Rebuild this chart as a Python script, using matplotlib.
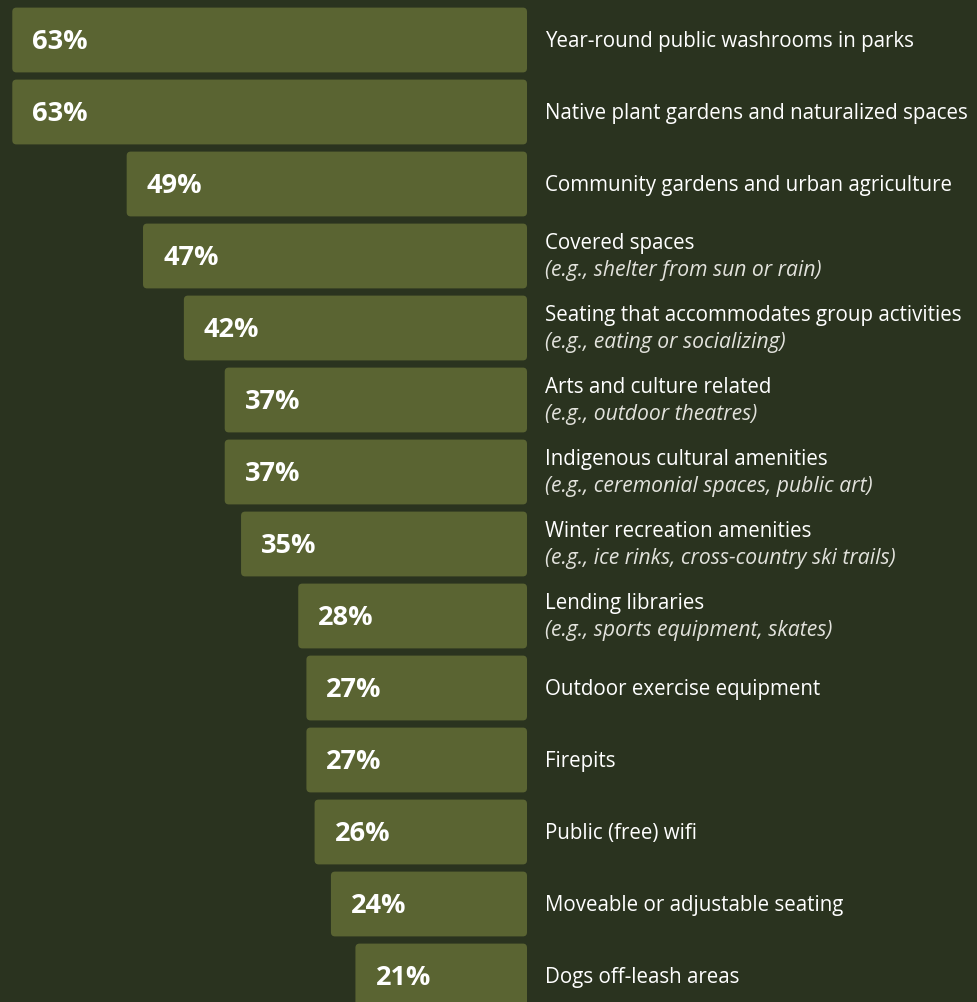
import matplotlib.pyplot as plt
from matplotlib.patches import FancyBboxPatch
from matplotlib.transforms import blended_transform_factory

values = [63, 63, 49, 47, 42, 37, 37, 35, 28, 27, 27, 26, 24, 21]
titles = [
    "Year-round public washrooms in parks",
    "Native plant gardens and naturalized spaces",
    "Community gardens and urban agriculture",
    "Covered spaces",
    "Seating that accommodates group activities",
    "Arts and culture related",
    "Indigenous cultural amenities",
    "Winter recreation amenities",
    "Lending libraries",
    "Outdoor exercise equipment",
    "Firepits",
    "Public (free) wifi",
    "Moveable or adjustable seating",
    "Dogs off-leash areas",
]
notes = [
    "", "", "",
    "(e.g., shelter from sun or rain)",
    "(e.g., eating or socializing)",
    "(e.g., outdoor theatres)",
    "(e.g., ceremonial spaces, public art)",
    "(e.g., ice rinks, cross-country ski trails)",
    "(e.g., sports equipment, skates)",
    "", "", "", "", "",
]

BG = "#2a331f"
BAR = "#5a6432"
W, H = 978, 1002
FONT = "Open Sans"

fig = plt.figure(figsize=(W / 100, H / 100), dpi=100, facecolor=BG)
ax = fig.add_axes([0, 0, 527 / W, 1])
ax.set_facecolor(BG)
ax.axis("off")

px = 8.17  # pixels per percent
ax.set_xlim(527 / px, 0)
ax.set_ylim((H - 40) / 72, -40 / 72)

rows = list(range(len(values)))
bars = ax.barh(rows, values, height=0.9, color=BAR)
for b in bars:
    b.set_visible(False)
    r = FancyBboxPatch((b.get_x(), b.get_y()), b.get_width(), b.get_height(),
                       boxstyle="round,pad=0,rounding_size=0.5",
                       mutation_aspect=0.115, fc=BAR, ec="none")
    ax.add_patch(r)

tr = blended_transform_factory(fig.transFigure, ax.transData)
for i, v in enumerate(values):
    ax.text(v - 20 / px, i - 0.02, f"{v}%", color="white", fontsize=19.5,
            fontweight="bold", family=FONT, ha="left", va="center_baseline")
    x = 545 / W
    if notes[i]:
        ax.text(x, i - 15 / 72, titles[i], transform=tr, color="white",
                fontsize=14.8, family=FONT, ha="left", va="center_baseline")
        ax.text(x, i + 12 / 72, notes[i], transform=tr, color="#e2e2dc",
                fontsize=15.2, family=FONT, style="italic", ha="left",
                va="center_baseline")
    else:
        ax.text(x, i - 0.02, titles[i], transform=tr, color="white",
                fontsize=14.8, family=FONT, ha="left", va="center_baseline")

fig.savefig("out.png", dpi=100, facecolor=BG)
